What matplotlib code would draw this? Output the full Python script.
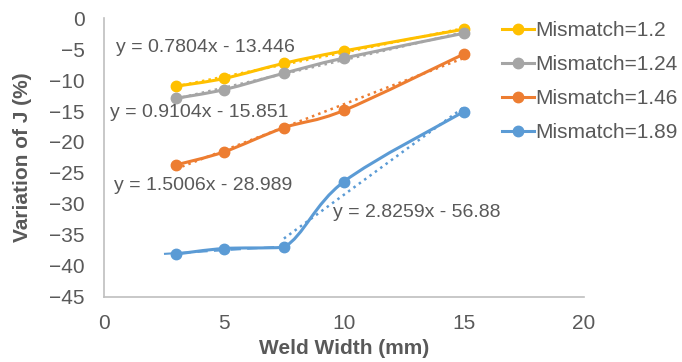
import numpy as np
import matplotlib.pyplot as plt
from matplotlib.path import Path
from matplotlib.patches import PathPatch
from matplotlib.lines import Line2D

plt.rcParams['font.family'] = ['Liberation Sans', 'DejaVu Sans']

# data
weld_width = [3, 5, 7.5, 10, 15]
mm_12 = [-11.0, -9.75, -7.3, -5.3, -1.8]
mm_124 = [-12.95, -11.55, -8.9, -6.45, -2.45]
mm_146 = [-23.7, -21.6, -17.7, -14.9, -5.8]
mm_189 = [-38.1, -37.2, -37.0, -26.4, -15.1]

labels = ['Mismatch=1.2', 'Mismatch=1.24', 'Mismatch=1.46', 'Mismatch=1.89']
colors = ['#FFC000', '#A5A5A5', '#ED7D31', '#5B9BD5']
eq_texts = ['y = 0.7804x - 13.446', 'y = 0.9104x - 15.851',
            'y = 1.5006x - 28.989', 'y = 2.8259x - 56.88']
eq_pos = [(0.5, -4.7), (0.25, -15.2), (0.4, -27.1), (9.55, -31.45)]

txt = '#595959'


def smooth_path(xs, ys):
    # smoothed line: catmull-rom bezier, control points kept inside each segment's y range
    p = np.column_stack([xs, ys]).astype(float)
    n = len(p)
    verts = [p[0]]
    codes = [Path.MOVETO]
    for i in range(n - 1):
        p0 = p[i - 1] if i > 0 else p[i]
        p3 = p[i + 2] if i + 2 < n else p[i + 1]
        c1 = p[i] + (p[i + 1] - p0) / 6
        c2 = p[i + 1] - (p3 - p[i]) / 6
        lo, hi = min(p[i, 1], p[i + 1, 1]), max(p[i, 1], p[i + 1, 1])
        c1[1] = np.clip(c1[1], lo, hi)
        c2[1] = np.clip(c2[1], lo, hi)
        verts += [c1, c2, p[i + 1]]
        codes += [Path.CURVE4] * 3
    return Path(verts, codes)


fig = plt.figure(figsize=(6.82, 3.62), dpi=100)
ax = fig.add_axes([0.1525, 0.18, 0.7035, 0.77])

x = np.array(weld_width)
handles = []
for ys, c, lab in zip([mm_12, mm_124, mm_146, mm_189], colors, labels):
    ax.add_patch(PathPatch(smooth_path(x, ys), facecolor='none',
                           edgecolor=c, lw=2.2, zorder=3))
    ax.plot(x, ys, 'o', color=c, ms=7.5, zorder=4)
    handles.append(Line2D([], [], color=c, lw=2.2, marker='o', ms=7.5))

# linear trendlines
for ys, c in zip([mm_12, mm_124, mm_146], colors):
    k, b = np.polyfit(x, ys, 1)
    xt = np.array([3, 15])
    ax.plot(xt, k * xt + b, ':', color=c, lw=1.8, zorder=2)

# blue series trends fitted on two parts
k, b = np.polyfit(x[2:], np.array(mm_189)[2:], 1)
xt = np.array([7.5, 15])
ax.plot(xt, k * xt + b, ':', color=colors[3], lw=1.8, zorder=2)
k, b = np.polyfit(x[:3], np.array(mm_189)[:3], 1)
xt = np.array([2.5, 7.5])
ax.plot(xt, k * xt + b, '--', color=colors[3], lw=1.5, dashes=(5, 3), zorder=2)

for t, (tx, ty) in zip(eq_texts, eq_pos):
    ax.text(tx, ty, t, fontsize=14, color=txt, va='center', ha='left', zorder=5)

ax.set_xlim(0, 20)
ax.set_ylim(-45, 0)
ax.set_xticks(range(0, 21, 5))
ax.set_yticks(range(-45, 1, 5))
ax.tick_params(length=0, labelsize=15, labelcolor=txt)
ax.tick_params(axis='x', pad=12)
ax.tick_params(axis='y', pad=14)
for s in ['top', 'right']:
    ax.spines[s].set_visible(False)
for s in ['left', 'bottom']:
    ax.spines[s].set_color('#BFBFBF')
    ax.spines[s].set_linewidth(1.2)

ax.set_xlabel('Weld Width (mm)', fontsize=15, fontweight='bold', color=txt, labelpad=5)
ax.set_ylabel('Variation of J (%)', fontsize=15, fontweight='bold', color=txt, labelpad=12)

fig.legend(handles, labels, loc='upper left', bbox_to_anchor=(0.708, 0.993),
           frameon=False, fontsize=15, labelcolor=txt, handlelength=1.55,
           handletextpad=0.05, labelspacing=0.72)

fig.savefig('out.png', dpi=100)
